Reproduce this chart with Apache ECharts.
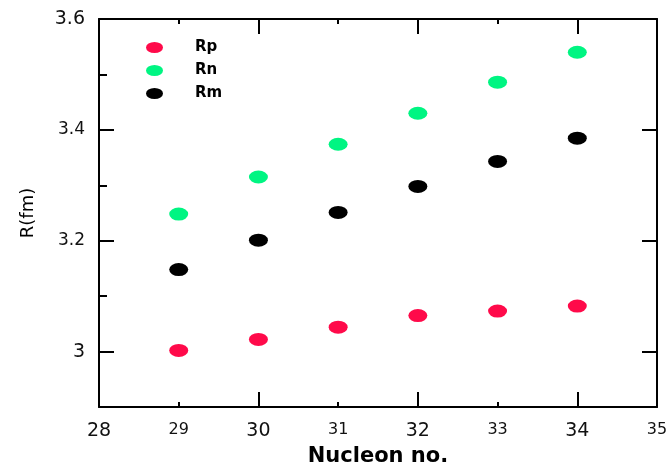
<!DOCTYPE html>
<html>
<head>
<meta charset="utf-8">
<script src="https://cdn.jsdelivr.net/npm/echarts@6/dist/echarts.min.js"></script>
<style>html,body{margin:0;padding:0;background:#fff;}#chart{width:667px;height:463px;}</style>
</head>
<body>
<div id="chart"></div>
<script>
const nucleon = [29, 30, 31, 32, 33, 34];
const Rp = [3.002, 3.022, 3.044, 3.065, 3.073, 3.082];
const Rn = [3.248, 3.315, 3.374, 3.430, 3.486, 3.540];
const Rm = [3.148, 3.201, 3.251, 3.298, 3.343, 3.385];
const yLabelTicks = [3, 3.2, 3.4, 3.6];
const yMajorTicks = [3, 3.2, 3.4];
const seriesNames = ['Rp', 'Rn', 'Rm'];

const ellipse = 'path://M0,50 A50,50 0 1,1 100,50 A50,50 0 1,1 0,50 Z';
const colors = ['#ff0a4a', '#00f582', '#000000'];
const font = 'DejaVu Sans';

function pairs(ys) { return nucleon.map((x, i) => [x, ys[i]]); }

const chart = echarts.init(document.getElementById('chart'));
const lineStyle = { color: '#000', width: 2 };
const baseX = { type: 'value', min: 28, max: 35, splitLine: { show: false } };
const baseY = { type: 'value', min: 2.9, max: 3.6, splitLine: { show: false } };

chart.setOption({
  animation: false,
  backgroundColor: '#fff',
  grid: { left: 99, right: 10, top: 19, bottom: 56, containLabel: false, outerBoundsMode: 'none' },
  legend: {
    orient: 'vertical', left: 146, top: 40, padding: 0,
    itemWidth: 17, itemHeight: 11, itemGap: 8, symbolKeepAspect: false,
    data: seriesNames.map((n) => ({ name: n, icon: ellipse })),
    textStyle: { fontFamily: font, fontWeight: 'bold', fontSize: 15, color: '#000', padding: [0, 0, 0, 27], lineHeight: 13 }
  },
  xAxis: [
    Object.assign({}, baseX, {
      position: 'bottom', interval: 1,
      axisLine: { show: true, lineStyle: lineStyle },
      axisTick: { show: true, inside: true, length: 5, lineStyle: lineStyle },
      axisLabel: {
        margin: 15, color: '#111', fontFamily: font,
        formatter: v => (Math.round(v) % 2 === 0 ? '{a|' + v + '}' : '{b|' + v + '}'),
        rich: { a: { fontSize: 19, fontFamily: font, color: '#111' }, b: { fontSize: 16, fontFamily: font, color: '#111', padding: [0, 0, 3, 0] } }
      },
      name: 'Nucleon no.', nameLocation: 'middle', nameGap: 39,
      nameTextStyle: { fontFamily: font, fontWeight: 'bold', fontSize: 21, color: '#000' }
    }),
    Object.assign({}, baseX, {
      position: 'bottom', interval: 2,
      axisLine: { show: false },
      axisTick: { show: true, inside: true, length: 15, lineStyle: lineStyle },
      axisLabel: { show: false }
    }),
    Object.assign({}, baseX, {
      position: 'top', interval: 1,
      axisLine: { show: true, lineStyle: lineStyle },
      axisTick: { show: true, inside: true, length: 5, lineStyle: lineStyle },
      axisLabel: { show: false }
    }),
    Object.assign({}, baseX, {
      position: 'top', interval: 2,
      axisLine: { show: false },
      axisTick: { show: true, inside: true, length: 15, lineStyle: lineStyle },
      axisLabel: { show: false }
    })
  ],
  yAxis: [
    Object.assign({}, baseY, {
      position: 'left', interval: 0.1,
      axisLine: { show: true, lineStyle: lineStyle },
      axisTick: { show: true, inside: true, length: 8, lineStyle: lineStyle },
      axisLabel: {
        margin: 14, color: '#111', fontFamily: font,
        customValues: yLabelTicks,
        formatter: v => {
          const k = Math.round(v * 10);
          if (k % 2 !== 0) return '';
          const s = (k / 10).toString();
          return (k === 30 || k === 36) ? '{a|' + s + '}' : '{b|' + s + '}';
        },
        rich: { a: { fontSize: 19, fontFamily: font, color: '#111' }, b: { fontSize: 17, fontFamily: font, color: '#111' } }
      },
      name: 'R(fm)', nameLocation: 'middle', nameGap: 62, nameRotate: 90,
      nameTextStyle: { fontFamily: font, fontSize: 18, color: '#000' }
    }),
    Object.assign({}, baseY, {
      position: 'left',
      axisLine: { show: false },
      axisTick: { show: true, inside: true, length: 15, lineStyle: lineStyle, customValues: yMajorTicks },
      axisLabel: { show: false }
    }),
    Object.assign({}, baseY, {
      position: 'right',
      axisLine: { show: true, lineStyle: lineStyle },
      axisTick: { show: true, inside: true, length: 15, lineStyle: lineStyle, customValues: yMajorTicks },
      axisLabel: { show: false }
    })
  ],
  series: [Rp, Rn, Rm].map((d, i) => ({
    name: seriesNames[i], type: 'scatter', xAxisIndex: 0, yAxisIndex: 0,
    symbol: ellipse, symbolSize: [19, 13],
    itemStyle: { color: colors[i], opacity: 1 },
    data: pairs(d)
  }))
});
</script>
</body>
</html>
